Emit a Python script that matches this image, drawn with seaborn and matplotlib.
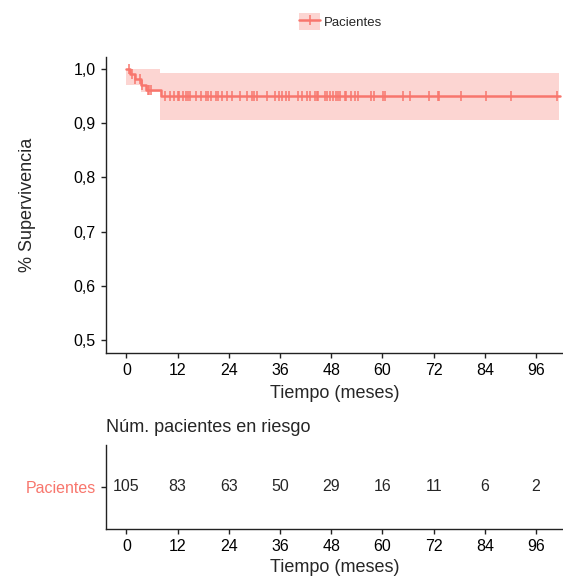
import numpy as np
import pandas as pd
import matplotlib
matplotlib.use('Agg')
import matplotlib.pyplot as plt
import seaborn as sns
from matplotlib.patches import Patch
from matplotlib.lines import Line2D
from matplotlib.legend_handler import HandlerTuple

# ── Data ──────────────────────────────────────────────────────────────────────
step_time = [0, 0.8, 2.0, 3.3, 4.5, 8.0, 101.5]
step_surv = [1.0, 0.990, 0.981, 0.971, 0.962, 0.950, 0.950]

band_time = [0, 3.3, 7.8, 101.4]
band_low = [0.970, 0.958, 0.906, 0.906]
band_high = [1.0, 1.0, 0.993, 0.993]

censor_time = [0.5, 1.3, 2.1, 3.1, 3.7, 5.0, 5.4, 5.8, 9.1, 10.3, 11.1, 12.0,
               12.4, 13.2, 14.0, 14.5, 15.0, 16.3, 17.4, 18.6, 19.1, 19.8,
               20.9, 21.5, 22.5, 23.6, 24.8, 26.7, 28.3, 29.5, 30.0, 30.6,
               33.0, 34.9, 35.7, 36.4, 37.4, 38.0, 40.3, 41.1, 42.2, 42.9,
               44.2, 44.6, 45.0, 46.5, 47.1, 47.7, 48.4, 49.1, 49.6, 50.0,
               51.2, 51.5, 52.7, 53.5, 54.3, 57.4, 57.9, 60.1, 60.7, 64.7,
               66.4, 70.9, 72.9, 73.3, 78.5, 84.3, 90.1, 101.0]

risk_time = [0, 12, 24, 36, 48, 60, 72, 84, 96]
risk_n = [105, 83, 63, 50, 29, 16, 11, 6, 2]

y_ticks = [0.5, 0.6, 0.7, 0.8, 0.9, 1.0]
y_labels = ['0,5', '0,6', '0,7', '0,8', '0,9', '1,0']

group = 'Pacientes'
red = '#F8766D'

# ── Style ─────────────────────────────────────────────────────────────────────
sns.set_theme(style='ticks')
plt.rcParams['font.family'] = ['Liberation Sans', 'DejaVu Sans']
plt.rcParams['axes.linewidth'] = 1.0
plt.rcParams['xtick.major.width'] = 1.0
plt.rcParams['ytick.major.width'] = 1.0
plt.rcParams['xtick.major.size'] = 3.5
plt.rcParams['ytick.major.size'] = 3.5
plt.rcParams['axes.edgecolor'] = '#222222'

fig = plt.figure(figsize=(5.63, 5.77), dpi=100)
ax = fig.add_axes([0.1874, 0.388, 0.8126, 0.513])
ax_r = fig.add_axes([0.1874, 0.0832, 0.8126, 0.1456])

# ── Survival curve ────────────────────────────────────────────────────────────
curve = pd.DataFrame({'t': step_time, 's': step_surv})
ax.fill_between(band_time, band_low, band_high, step='post',
                color=red, alpha=0.3, linewidth=0)
sns.lineplot(data=curve, x='t', y='s', drawstyle='steps-post', color=red,
             linewidth=1.8, estimator=None, ax=ax)

idx = np.searchsorted(step_time, censor_time, side='right') - 1
cens = pd.DataFrame({'t': censor_time, 's': np.array(step_surv)[idx]})
sns.scatterplot(data=cens, x='t', y='s', marker='|', s=50, color=red,
                linewidth=1.1, ax=ax)

ax.set_xlim(-4.9, 102.3)
ax.set_ylim(0.476, 1.022)
ax.set_xticks(risk_time)
ax.set_yticks(y_ticks)
ax.set_yticklabels(y_labels)
ax.tick_params(labelsize=11.5, colors='#222222', labelcolor='black')
ax.set_xlabel('Tiempo (meses)', fontsize=13, labelpad=5)
ax.set_ylabel('% Supervivencia', fontsize=13, labelpad=27)
sns.despine(ax=ax)

handle = (Patch(facecolor=red, alpha=0.3, edgecolor='none'),
          Line2D([], [], color=red, linewidth=1.8, marker='|',
                 markersize=7, markeredgewidth=1.1))
fig.legend([handle], [group], handler_map={tuple: HandlerTuple(ndivide=1)},
           loc='center', bbox_to_anchor=(0.605, 0.962), frameon=False,
           fontsize=9.5, handlelength=1.6, handleheight=1.6, handletextpad=0.3)

# ── Risk table ────────────────────────────────────────────────────────────────
for t, n in zip(risk_time, risk_n):
    ax_r.text(t, 1, str(n), ha='center', va='center', fontsize=11.5)
ax_r.set_xlim(-4.9, 102.3)
ax_r.set_ylim(0.5, 1.5)
ax_r.set_xticks(risk_time)
ax_r.set_yticks([1])
ax_r.set_yticklabels([group])
ax_r.tick_params(labelsize=11.5, colors='#222222', labelcolor='black')
ax_r.get_yticklabels()[0].set_color(red)
ax_r.set_xlabel('Tiempo (meses)', fontsize=13, labelpad=4)
ax_r.set_title('Núm. pacientes en riesgo', loc='left', fontsize=13, pad=9)
sns.despine(ax=ax_r)

fig.savefig('out.png', dpi=100)
